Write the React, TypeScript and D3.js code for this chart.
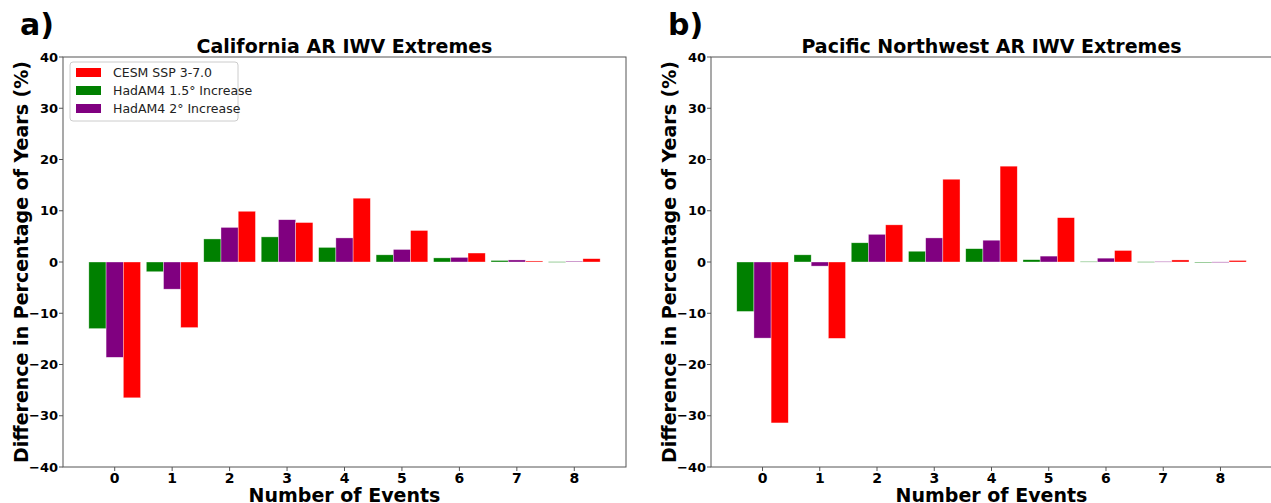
import React from "react";
import * as d3 from "d3";

// number of events on the x axis
const events = [0, 1, 2, 3, 4, 5, 6, 7, 8];
const yTicks = [-40, -30, -20, -10, 0, 10, 20, 30, 40];

const seriesNames = ["HadAM4 1.5° Increase", "HadAM4 2° Increase", "CESM SSP 3-7.0"];
const seriesColors = ["green", "purple", "red"];
// legend order differs from bar order
const legendOrder = [2, 0, 1];

// California
const caHad15 = [-13.0, -1.9, 4.5, 4.9, 2.85, 1.4, 0.8, 0.3, 0.05];
const caHad20 = [-18.6, -5.3, 6.75, 8.25, 4.7, 2.45, 0.9, 0.4, 0.15];
const caCesm = [-26.5, -12.8, 9.9, 7.7, 12.45, 6.15, 1.75, 0.2, 0.65];

// Pacific Northwest
const pnwHad15 = [-9.65, 1.4, 3.75, 2.1, 2.6, 0.45, 0.1, 0.05, 0.0];
const pnwHad20 = [-14.85, -0.8, 5.4, 4.7, 4.25, 1.15, 0.75, 0.1, 0.02];
const pnwCesm = [-31.4, -14.9, 7.25, 16.15, 18.7, 8.65, 2.25, 0.4, 0.3];

const FONT = "DejaVu Sans, sans-serif";
const barW = 0.3;
const fmt = (t: number) => String(t).replace("-", "\u2212");

type PanelProps = {
  letter: string;
  title: string;
  series: number[][];
  left: number;
  right: number;
  showLegend?: boolean;
};

const Panel = ({ letter, title, series, left, right, showLegend }: PanelProps) => {
  const top = 57;
  const bottom = 467;
  const x = d3.scaleLinear().domain([-0.9, 8.9]).range([left, right]);
  const y = d3.scaleLinear().domain([-40, 40]).range([bottom, top]);
  const cx = (left + right) / 2;

  return (
    <g>
      <text x={left - 43} y={35} fontFamily={FONT} fontWeight="bold" fontSize={30}>
        {letter}
      </text>
      <text x={cx} y={53} textAnchor="middle" fontFamily={FONT} fontWeight="bold" fontSize={19}>
        {title}
      </text>
      <text
        transform={`translate(${left - 35},${(top + bottom) / 2}) rotate(-90)`}
        textAnchor="middle"
        fontFamily={FONT}
        fontWeight="bold"
        fontSize={19}
      >
        Difference in Percentage of Years (%)
      </text>
      <text x={cx} y={502} textAnchor="middle" fontFamily={FONT} fontWeight="bold" fontSize={19}>
        Number of Events
      </text>

      {series.map((vals, si) => (
        <g key={si} fill={seriesColors[si]}>
          {vals.map((v, i) => {
            const x0 = x(events[i] + (si - 1) * barW - barW / 2);
            const x1 = x(events[i] + (si - 1) * barW + barW / 2);
            const y0 = y(Math.max(0, v));
            const y1 = y(Math.min(0, v));
            return (
              <rect
                key={i}
                x={x0}
                y={y0}
                width={x1 - x0}
                height={Math.max(0.6, y1 - y0)}
                stroke="#fff"
                strokeOpacity={0.6}
                strokeWidth={0.6}
              />
            );
          })}
        </g>
      ))}

      <rect x={left} y={top} width={right - left} height={bottom - top} fill="none" stroke="#555" strokeWidth={1} />

      {yTicks.map((t) => (
        <g key={t} transform={`translate(${left},${y(t)})`}>
          <line x1={-4} x2={0} stroke="#555" />
          <text x={-5} dy="0.35em" textAnchor="end" fontFamily={FONT} fontWeight="bold" fontSize={13}>
            {fmt(t)}
          </text>
        </g>
      ))}
      {events.map((e) => (
        <g key={e} transform={`translate(${x(e)},${bottom})`}>
          <line y1={0} y2={4} stroke="#555" />
          <text y={16} textAnchor="middle" fontFamily={FONT} fontWeight="bold" fontSize={14}>
            {e}
          </text>
        </g>
      ))}

      {showLegend && (
        <g transform={`translate(${left + 7},${top + 5})`}>
          <rect width={168} height={59} rx={3} fill="#fff" stroke="#ccc" strokeWidth={1} />
          {legendOrder.map((si, k) => (
            <g key={si} transform={`translate(6,${11 + k * 18})`}>
              <rect x={0} y={-5} width={25} height={9} fill={seriesColors[si]} />
              <text x={37} dy="0.35em" fontFamily={FONT} fontSize={12.5} fill="#222">
                {seriesNames[si]}
              </text>
            </g>
          ))}
        </g>
      )}
    </g>
  );
};

export default function App() {
  return (
    <svg
      width={1271}
      height={503}
      style={{ position: "absolute", left: 0, top: 0, background: "#fff" }}
    >
      <rect width={1271} height={503} fill="#fff" />
      <Panel
        letter="a)"
        title="California AR IWV Extremes"
        series={[caHad15, caHad20, caCesm]}
        left={63}
        right={626}
        showLegend
      />
      <Panel
        letter="b)"
        title="Pacific Northwest AR IWV Extremes"
        series={[pnwHad15, pnwHad20, pnwCesm]}
        left={711}
        right={1272}
      />
    </svg>
  );
}
